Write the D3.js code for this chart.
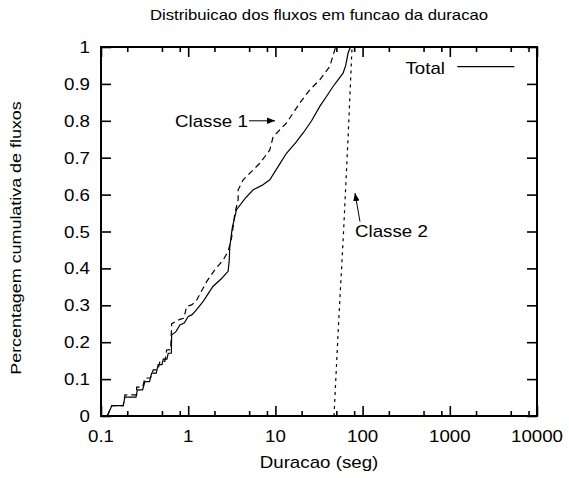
<!DOCTYPE html>
<html>
<head>
<meta charset="UTF-8">
<script src="https://cdnjs.cloudflare.com/ajax/libs/d3/7.8.5/d3.min.js"></script>
<style>
  body { margin: 0; background: #fff; }
  text { font-family: "Liberation Sans", Arial, sans-serif; fill: #000; }
</style>
</head>
<body>
<div class="chart"></div>
<script>
// valores: duracao (seg) e fracao acumulada
const totalDur = [0.118, 0.133, 0.180, 0.188, 0.252, 0.261, 0.30, 0.319, 0.36, 0.381, 0.43, 0.453, 0.50, 0.518, 0.57, 0.590, 0.64, 0.646, 0.72, 0.804, 0.9, 1.0, 1.1, 1.25, 1.5, 1.92, 2.4, 2.87, 2.95, 3.0, 3.2, 3.58, 4.5, 5.56, 7, 8.63, 11, 13.4, 17, 20.8, 26, 32.3, 39, 45.8, 52, 59.7, 64, 68.1, 72.4]
const totalCdf = [0, 0.028, 0.028, 0.051, 0.051, 0.071, 0.071, 0.093, 0.093, 0.116, 0.116, 0.139, 0.139, 0.154, 0.154, 0.17, 0.17, 0.22, 0.228, 0.247, 0.252, 0.27, 0.274, 0.288, 0.312, 0.351, 0.372, 0.392, 0.42, 0.459, 0.51, 0.559, 0.59, 0.613, 0.625, 0.640, 0.68, 0.712, 0.74, 0.767, 0.80, 0.839, 0.868, 0.893, 0.91, 0.929, 0.95, 0.983, 1.0]

const classe1Dur = [0.118, 0.133, 0.180, 0.188, 0.256, 0.256, 0.30, 0.319, 0.37, 0.397, 0.45, 0.474, 0.54, 0.566, 0.63, 0.646, 0.804, 0.893, 0.959, 1.094, 1.225, 1.625, 2.02, 2.52, 2.87, 3.14, 3.28, 3.43, 3.74, 3.74, 4.27, 6.62, 8.63, 9.42, 13.4, 19.0, 24.8, 32.3, 42.0, 47.9, 49.2]
const classe1Cdf = [0, 0.028, 0.028, 0.057, 0.057, 0.078, 0.078, 0.103, 0.103, 0.125, 0.125, 0.148, 0.148, 0.179, 0.18, 0.25, 0.262, 0.265, 0.297, 0.301, 0.31, 0.364, 0.396, 0.423, 0.446, 0.482, 0.514, 0.55, 0.586, 0.613, 0.64, 0.685, 0.721, 0.757, 0.794, 0.848, 0.884, 0.911, 0.947, 0.992, 1.0]

const classe2Dur = [47, 53, 60.5, 68, 75.7]
const classe2Cdf = [0, 0.25, 0.5, 0.75, 1]

const xTicks = [0.1, 1, 10, 100, 1000, 10000]
const xTickLabels = ['0.1', '1', '10', '100', '1000', '10000']
const xMinorFactors = [2, 5, 8]
const yTicks = [0, 0.1, 0.2, 0.3, 0.4, 0.5, 0.6, 0.7, 0.8, 0.9, 1]
const yTickLabels = ['0', '0.1', '0.2', '0.3', '0.4', '0.5', '0.6', '0.7', '0.8', '0.9', '1']

const width = 569
const height = 478
const mLeft = 101, mRight = 537, mTop = 47, mBottom = 416
const stretch = 1.17

const svg = d3.select('.chart').append('svg')
  .attr('width', width)
  .attr('height', height)

const x = d3.scaleLog().domain([0.1, 10000]).range([mLeft, mRight])
const y = d3.scaleLinear().domain([0, 1]).range([mBottom, mTop])

// setas
svg.append('defs').append('marker')
  .attr('id', 'seta')
  .attr('viewBox', '0 0 10 10')
  .attr('refX', 10).attr('refY', 5)
  .attr('markerWidth', 8).attr('markerHeight', 8)
  .attr('markerUnits', 'userSpaceOnUse')
  .attr('orient', 'auto')
  .append('path')
  .attr('d', 'M0,1 L10,5 L0,9 Z')
  .attr('fill', '#000')

// texto um pouco mais largo, como no original
function label(px, py, txt, size, anchor, rot) {
  svg.append('g')
    .attr('transform', `translate(${px},${py}) rotate(${rot || 0}) scale(${stretch},1)`)
    .append('text')
    .attr('text-anchor', anchor)
    .style('font-size', size + 'px')
    .text(txt)
}

// ticks menores
const minor = []
xTicks.slice(0, -1).forEach(d => xMinorFactors.forEach(f => minor.push(d * f)))

const tickW = 1.6
svg.append('g').attr('transform', `translate(0,${mBottom})`)
  .call(d3.axisBottom(x).tickValues(xTicks).tickSizeInner(-10).tickSizeOuter(0).tickFormat(''))
svg.append('g').attr('transform', `translate(0,${mBottom})`)
  .call(d3.axisBottom(x).tickValues(minor).tickSizeInner(-5).tickSizeOuter(0).tickFormat(''))
svg.append('g').attr('transform', `translate(0,${mTop})`)
  .call(d3.axisTop(x).tickValues(xTicks).tickSizeInner(-10).tickSizeOuter(0).tickFormat(''))
svg.append('g').attr('transform', `translate(0,${mTop})`)
  .call(d3.axisTop(x).tickValues(minor).tickSizeInner(-5).tickSizeOuter(0).tickFormat(''))
svg.append('g').attr('transform', `translate(${mLeft},0)`)
  .call(d3.axisLeft(y).tickValues(yTicks).tickSizeInner(-10).tickSizeOuter(0).tickFormat(''))
svg.append('g').attr('transform', `translate(${mRight},0)`)
  .call(d3.axisRight(y).tickValues(yTicks).tickSizeInner(-10).tickSizeOuter(0).tickFormat(''))
svg.selectAll('.domain').remove()
svg.selectAll('.tick line').attr('stroke', '#000').attr('stroke-width', tickW)

xTicks.forEach((d, i) => label(x(d), 442, xTickLabels[i], 16, 'middle'))
yTicks.forEach((d, i) => label(90, y(d) + 6, yTickLabels[i], 16, 'end'))

// curvas
const line = d3.line().x(d => x(d[0])).y(d => y(d[1]))
const plot = svg.append('g')

plot.append('path')
  .datum(totalDur.map((d, i) => [d, totalCdf[i]]))
  .attr('d', line)
  .attr('fill', 'none').attr('stroke', '#000').attr('stroke-width', 1.2)

plot.append('path')
  .datum(classe1Dur.map((d, i) => [d, classe1Cdf[i]]))
  .attr('d', line)
  .attr('fill', 'none').attr('stroke', '#000').attr('stroke-width', 1.2)
  .attr('stroke-dasharray', '6,4')

plot.append('path')
  .datum(classe2Dur.map((d, i) => [d, classe2Cdf[i]]))
  .attr('d', line)
  .attr('fill', 'none').attr('stroke', '#000').attr('stroke-width', 1.2)
  .attr('stroke-dasharray', '3,4')

// moldura
svg.append('rect')
  .attr('x', mLeft).attr('y', mTop)
  .attr('width', mRight - mLeft).attr('height', mBottom - mTop)
  .attr('fill', 'none').attr('stroke', '#000').attr('stroke-width', 2)

// legenda
label(x(881), y(0.927), 'Total', 16, 'end')
svg.append('line')
  .attr('x1', x(1219)).attr('x2', x(5495))
  .attr('y1', y(0.947)).attr('y2', y(0.947))
  .attr('stroke', '#000').attr('stroke-width', 1.2)

// rotulos das classes
label(x(0.706), y(0.784), 'Classe 1', 16, 'start')
svg.append('line')
  .attr('x1', x(4.98)).attr('y1', y(0.80))
  .attr('x2', x(9.9)).attr('y2', y(0.80))
  .attr('stroke', '#000').attr('stroke-width', 1)
  .attr('marker-end', 'url(#seta)')

label(x(81.8), y(0.485), 'Classe 2', 16, 'start')
svg.append('line')
  .attr('x1', x(93.3)).attr('y1', y(0.527))
  .attr('x2', x(81.8)).attr('y2', y(0.604))
  .attr('stroke', '#000').attr('stroke-width', 1)
  .attr('marker-end', 'url(#seta)')

// titulos
label((mLeft + mRight) / 2, 20, 'Distribuicao dos fluxos em funcao da duracao', 14.3, 'middle')
label((mLeft + mRight) / 2, 468, 'Duracao (seg)', 16, 'middle')
label(21, 238, 'Percentagem cumulativa de fluxos', 15.3, 'middle', -90)
</script>
</body>
</html>
